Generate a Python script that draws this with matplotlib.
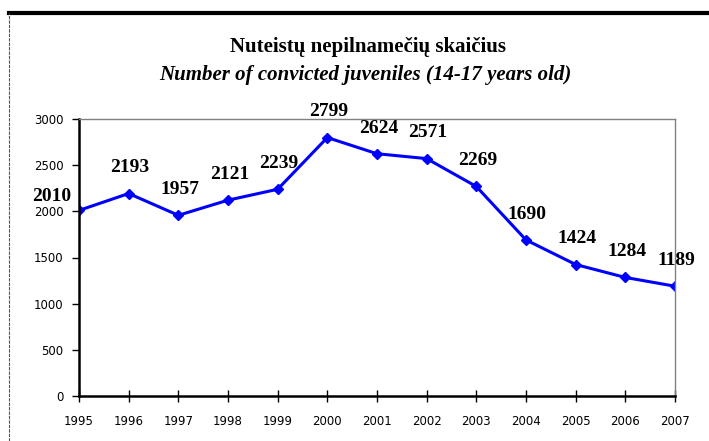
import matplotlib.pyplot as plt
from matplotlib.lines import Line2D

# data
years = [1995, 1996, 1997, 1998, 1999, 2000, 2001, 2002, 2003, 2004, 2005, 2006, 2007]
juveniles = [2010, 2193, 1957, 2121, 2239, 2799, 2624, 2571, 2269, 1690, 1424, 1284, 1189]
y_ticks = [0, 500, 1000, 1500, 2000, 2500, 3000]

plt.rcParams['font.family'] = ['Liberation Serif', 'DejaVu Serif']

fig = plt.figure(figsize=(7.09, 4.41), dpi=100)
ax = fig.add_axes([79 / 709, 45 / 441, 596 / 709, 277 / 441])

ax.plot(years, juveniles, color='#0000ff', linewidth=2.2, marker='D', markersize=5)

# value labels (offsets in points)
for yr, v in zip(years, juveniles):
    if yr == 1995:
        off = (-20, 10)
    else:
        off = (1, 18.5)
    ax.annotate(str(v), (yr, v), xytext=off, textcoords='offset points',
                ha='center', va='center', fontsize=14, fontweight='bold')

ax.set_xlim(1995, 2007)
ax.set_ylim(0, 3000)
ax.set_xticks(years)
ax.set_xticklabels([str(y) for y in years], fontsize=8.5, fontfamily='DejaVu Sans')
ax.set_yticks(y_ticks)
ax.set_yticklabels([str(t) for t in y_ticks], fontsize=8.5, fontfamily='DejaVu Sans')
ax.tick_params(axis='x', direction='inout', length=8, width=1, pad=10)
ax.tick_params(axis='y', direction='out', length=5, width=1, pad=6)

for s in ['left', 'bottom']:
    ax.spines[s].set_color('black')
    ax.spines[s].set_linewidth(1.8)
for s in ['top', 'right']:
    ax.spines[s].set_color('#808080')
    ax.spines[s].set_linewidth(1)

fig.text(368 / 709, 1 - 47 / 441, 'Nuteistų nepilnamečių skaičius', ha='center', va='center',
         fontsize=15, fontweight='bold')
fig.text(365 / 709, 1 - 75 / 441, 'Number of convicted juveniles (14-17 years old)', ha='center',
         va='center', fontsize=15, fontweight='bold', fontstyle='italic')

# outer frame lines
fig.add_artist(Line2D([9 / 709, 1], [1 - 13 / 441, 1 - 13 / 441], color='black', linewidth=3,
                      transform=fig.transFigure))
fig.add_artist(Line2D([9 / 709, 9 / 709], [0, 1 - 13 / 441], color='#555555', linewidth=0.8,
                      linestyle=(0, (3, 1)), transform=fig.transFigure))

fig.savefig('out.png', dpi=100)
